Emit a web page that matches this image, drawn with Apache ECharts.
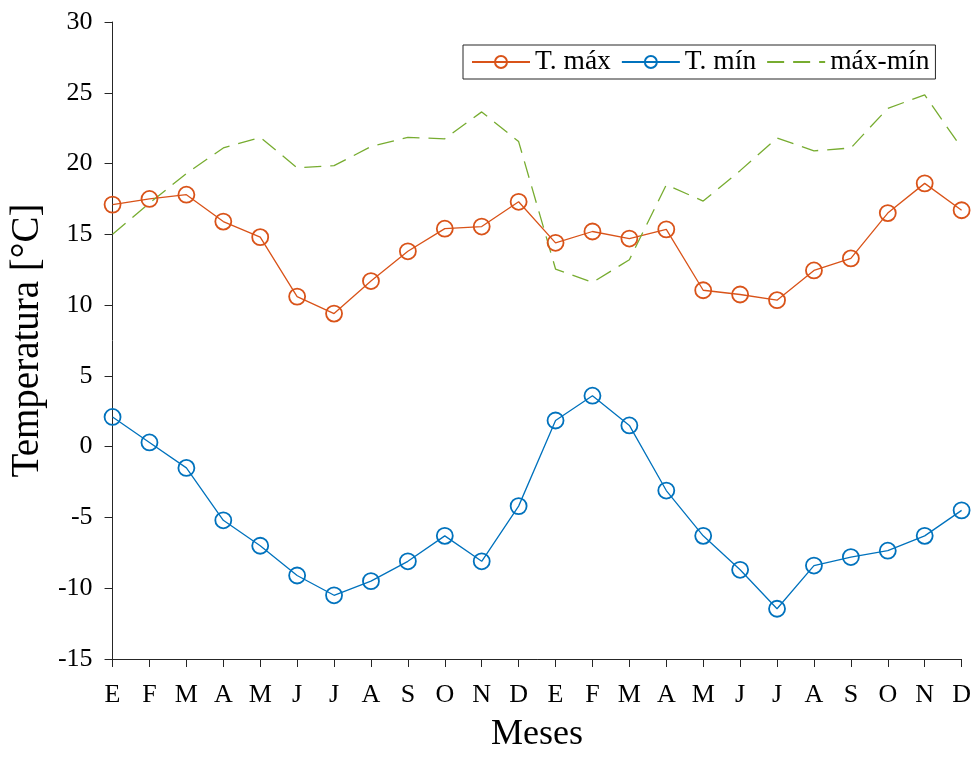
<!DOCTYPE html>
<html>
<head>
<meta charset="utf-8">
<script src="https://cdn.jsdelivr.net/npm/echarts@6/dist/echarts.min.js"></script>
<style>html,body{margin:0;padding:0;background:#fff;overflow:hidden}#c{width:974px;height:758px}</style>
</head>
<body>
<div id="c"></div>
<script>
const months = ['E','F','M','A','M','J','J','A','S','O','N','D','E','F','M','A','M','J','J','A','S','O','N','D'];
const tMax = [17.1,17.5,17.8,15.9,14.8,10.6,9.4,11.7,13.8,15.4,15.55,17.3,14.4,15.2,14.7,15.35,11.05,10.75,10.35,12.45,13.3,16.5,18.6,16.7];
const tMin = [2.1,0.3,-1.5,-5.2,-7.0,-9.1,-10.5,-9.5,-8.1,-6.3,-8.1,-4.2,1.85,3.6,1.5,-3.1,-6.3,-8.7,-11.45,-8.4,-7.8,-7.35,-6.3,-4.5];
const tDiff = [15.0,17.2,19.3,21.1,21.85,19.7,19.85,21.2,21.85,21.75,23.65,21.55,12.55,11.6,13.2,18.5,17.35,19.5,21.8,20.9,21.1,23.9,24.85,21.1];
const yTicks = {min:-15, max:30, interval:5};

const font = 'Liberation Serif';
const axisColor = '#262626';
const chart = echarts.init(document.getElementById('c'), null, {renderer:'canvas', width:974, height:758});
chart.setOption({
  animation:false,
  backgroundColor:'#fff',
  grid:{left:110, top:22, width:852, height:642, containLabel:false},
  legend:{
    left:463, top:45,
    padding:[3,6,3,8],
    itemGap:10, itemWidth:58, itemHeight:15,
    borderColor:axisColor, borderWidth:1, backgroundColor:'#fff',
    textStyle:{fontFamily:font, fontSize:27.5, color:'#000'},
    data:[
      {name:'T. máx'},
      {name:'T. mín'},
      {name:'máx-mín', itemStyle:{color:'rgba(0,0,0,0)', borderWidth:0, opacity:0}}
    ]
  },
  xAxis:{
    type:'category', data:months, boundaryGap:false,
    name:'Meses', nameLocation:'middle', nameGap:58,
    nameTextStyle:{fontFamily:font, fontSize:36, color:'#000'},
    axisLine:{onZero:false, lineStyle:{color:axisColor, width:1}},
    axisTick:{show:true, length:8, inside:false, lineStyle:{color:axisColor}},
    axisLabel:{fontFamily:font, fontSize:26, color:'#000', margin:23, interval:0},
    splitLine:{show:false}
  },
  yAxis:{
    type:'value', min:yTicks.min, max:yTicks.max, interval:yTicks.interval,
    name:'Temperatura [°C]', nameLocation:'middle', nameGap:62,
    nameTextStyle:{fontFamily:font, fontSize:39, color:'#000'},
    axisLine:{show:true, lineStyle:{color:axisColor, width:1}},
    axisTick:{show:true, length:8, inside:false, lineStyle:{color:axisColor}},
    axisLabel:{fontFamily:font, fontSize:26, color:'#000', margin:20},
    splitLine:{show:false}
  },
  series:[
    {name:'T. máx', type:'line', data:tMax, symbol:'circle', symbolSize:16,
     color:'#D95319', lineStyle:{color:'#D95319', width:1.3},
     itemStyle:{color:'rgba(0,0,0,0)', borderColor:'#D95319', borderWidth:1.8}},
    {name:'T. mín', type:'line', data:tMin, symbol:'circle', symbolSize:16,
     color:'#0072BD', lineStyle:{color:'#0072BD', width:1.3},
     itemStyle:{color:'rgba(0,0,0,0)', borderColor:'#0072BD', borderWidth:1.8}},
    {name:'máx-mín', type:'line', data:tDiff, symbol:'none',
     color:'#77AC30', lineStyle:{color:'#77AC30', width:1.3, type:[17,9]},
     itemStyle:{color:'#77AC30'}}
  ]
});
</script>
</body>
</html>
